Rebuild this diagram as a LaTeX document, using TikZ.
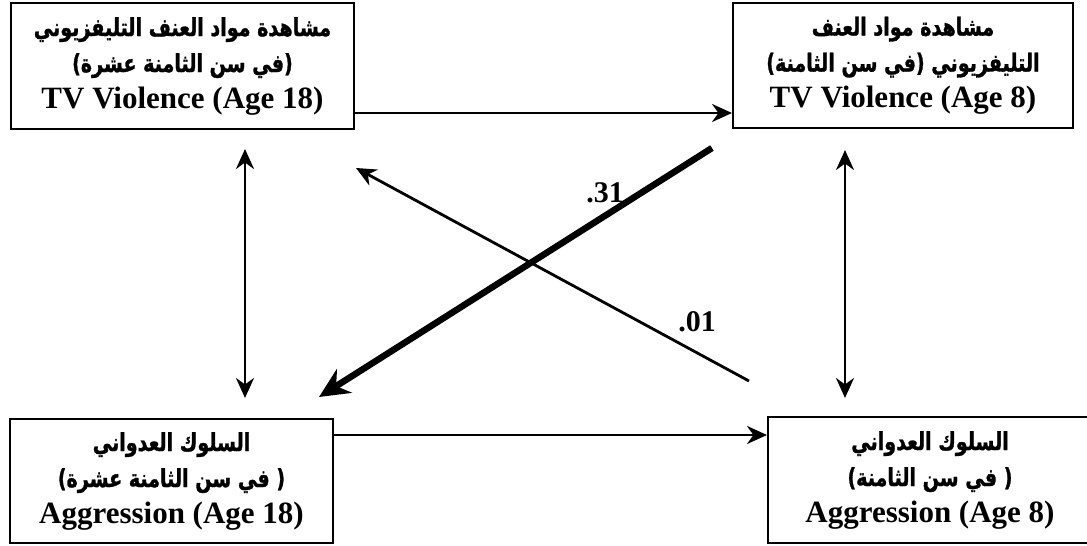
\documentclass[tikz,border=0pt]{standalone}
\usepackage{fontspec}
\setmainfont{Liberation Serif}
\newfontfamily\arabicfont[Script=Arabic,Scale=0.8,FakeStretch=0.77,BoldFeatures={FakeBold=1.2}]{DejaVu Sans}
\TeXXeTstate=1
\usetikzlibrary{arrows.meta}
\newcommand{\ar}[1]{{\arabicfont\beginR #1\endR}}
\begin{document}
\begin{tikzpicture}[x=1pt,y=-1pt,
  box/.style={draw,line width=2pt,align=center,inner sep=0pt,
    font=\fontsize{31}{36}\selectfont\bfseries},
  link/.style={line width=2.8pt,-{Stealth[length=20pt,width=18pt]}},
  dlink/.style={line width=2.8pt,{Stealth[length=20pt,width=18pt]}-{Stealth[length=20pt,width=18pt]}},
  heavy/.style={line width=6.5pt,-{Stealth[length=30pt,width=28pt]}},
  lbl/.style={font=\fontsize{30}{30}\selectfont\bfseries,inner sep=0pt}]
\useasboundingbox (0,0) rectangle (1087,546);
\node[box,minimum width=343pt,minimum height=126pt] (tl) at (182.5,66)
  {\ar{مشاهدة مواد العنف التليفزيوني}\\ \ar{(في سن الثامنة عشرة)}\\ TV Violence (Age 18)};
\node[box,minimum width=340pt,minimum height=125pt] (tr) at (903,65.5)
  {\ar{مشاهدة مواد العنف}\\ \ar{التليفزيوني (في سن الثامنة)}\\ TV Violence (Age 8)};
\node[box,minimum width=323pt,minimum height=124pt] (bl) at (171.5,481)
  {\ar{السلوك العدواني}\\ \ar{( في سن الثامنة عشرة)}\\ Aggression (Age 18)};
\node[box,minimum width=324pt,minimum height=126pt] (br) at (930,480)
  {\ar{السلوك العدواني}\\ \ar{( في سن الثامنة)}\\ Aggression (Age 8)};
\node[lbl] (l31) at (605,193) {.31};
\node[lbl] (l01) at (697,322) {.01};
\draw[link] ([yshift=-47pt]tl.east) -- ([yshift=-47.5pt]tr.west);
\draw[link] ([yshift=46pt]bl.east) -- ([yshift=45pt]br.west);
\draw[dlink] ([xshift=62.5pt,yshift=-19pt]tl.south) -- ([xshift=73.5pt,yshift=20pt]bl.north);
\draw[dlink] ([xshift=-58pt,yshift=-21pt]tr.south) -- ([xshift=-85pt,yshift=18pt]br.north);
\draw[heavy] ([xshift=-20pt,yshift=-19pt]tr.south west) -- ([xshift=-15pt,yshift=21pt]bl.north east);
\draw[link] ([xshift=-18pt,yshift=35pt]br.north west) -- ([xshift=1pt,yshift=-38pt]tl.south east);
\end{tikzpicture}
\end{document}
